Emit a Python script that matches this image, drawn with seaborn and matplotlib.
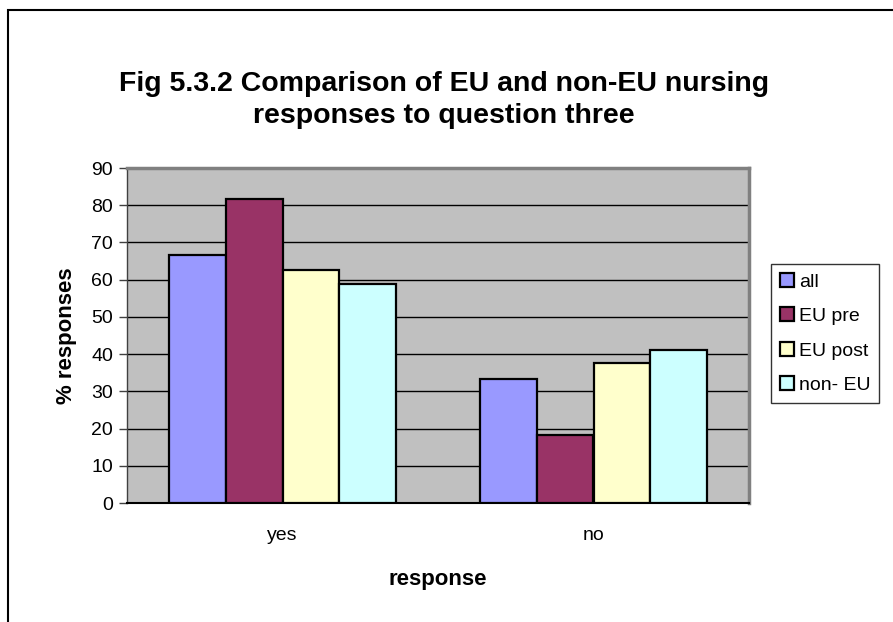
import pandas as pd
import matplotlib
matplotlib.use("Agg")
import matplotlib.pyplot as plt
import seaborn as sns
from matplotlib.patches import Rectangle

categories = ["yes", "no"]
groups = ["all", "EU pre", "EU post", "non- EU"]
all_vals = [66.7, 33.3]
eu_pre = [81.8, 18.2]
eu_post = [62.5, 37.5]
non_eu = [58.8, 41.2]
colors = ["#9999FF", "#993366", "#FFFFCC", "#CCFFFF"]

rows = []
for g, vals in zip(groups, [all_vals, eu_pre, eu_post, non_eu]):
    for c, v in zip(categories, vals):
        rows.append({"response": c, "group": g, "value": v})
df = pd.DataFrame(rows)

sns.set_style("white")
plt.rcParams["font.family"] = ["Liberation Sans", "DejaVu Sans"]
plt.rcParams["text.color"] = "black"
plt.rcParams["axes.labelcolor"] = "black"
plt.rcParams["xtick.labelcolor"] = "black"
plt.rcParams["ytick.labelcolor"] = "black"

fig = plt.figure(figsize=(8.93, 6.22), dpi=100)
ax = fig.add_axes([127 / 893, 1 - 503 / 622, 622 / 893, 335 / 622])
ax.set_facecolor("#C0C0C0")

sns.barplot(data=df, x="response", y="value", hue="group", order=categories,
            hue_order=groups, palette=colors, width=0.733, edgecolor="black",
            linewidth=1.6, saturation=1, ax=ax, zorder=3)

ax.set_ylim(0, 90)
ax.set_xlim(-0.5, 1.5)
ax.set_yticks(range(0, 91, 10))
ax.yaxis.grid(True, color="black", linewidth=1)
ax.set_axisbelow(True)
ax.set_xticks([0, 1])
ax.set_xticklabels(categories)
ax.set_xticks([-0.5, 0.5, 1.5], minor=True)
ax.tick_params(axis="x", which="major", length=0, labelsize=14, pad=17)
ax.tick_params(axis="x", which="minor", length=6, width=1, color="#404040")
ax.tick_params(axis="y", length=6, width=1, color="#404040", labelsize=14, left=True, pad=4)

for s in ["top", "right"]:
    ax.spines[s].set_color("#808080")
    ax.spines[s].set_linewidth(2.5)
ax.spines["left"].set_color("#404040")
ax.spines["bottom"].set_color("black")
ax.spines["left"].set_linewidth(1)
ax.spines["bottom"].set_linewidth(1.5)

ax.set_xlabel("response", fontsize=16, fontweight="bold", labelpad=18)
ax.set_ylabel("% responses", fontsize=16, fontweight="bold", labelpad=10)

fig.text(444 / 893, 1 - 100 / 622,
         "Fig 5.3.2 Comparison of EU and non-EU nursing\nresponses to question three",
         ha="center", va="center", fontsize=20.5, fontweight="bold", linespacing=1.3)

leg = ax.legend(loc="upper left", bbox_to_anchor=(771 / 893, 1 - 264 / 622),
                bbox_transform=fig.transFigure, fontsize=14, frameon=True,
                fancybox=False, edgecolor="black", handlelength=0.75,
                handleheight=0.75, handletextpad=0.25, labelspacing=0.85,
                borderpad=0.45, borderaxespad=0)
leg.get_frame().set_linewidth(1)

fig.patches.append(Rectangle((8 / 893, -0.1), 1.2, 1 - 10 / 622 + 0.1,
                             transform=fig.transFigure, fill=False,
                             edgecolor="black", linewidth=1.5))

fig.savefig("out.png", dpi=100)
